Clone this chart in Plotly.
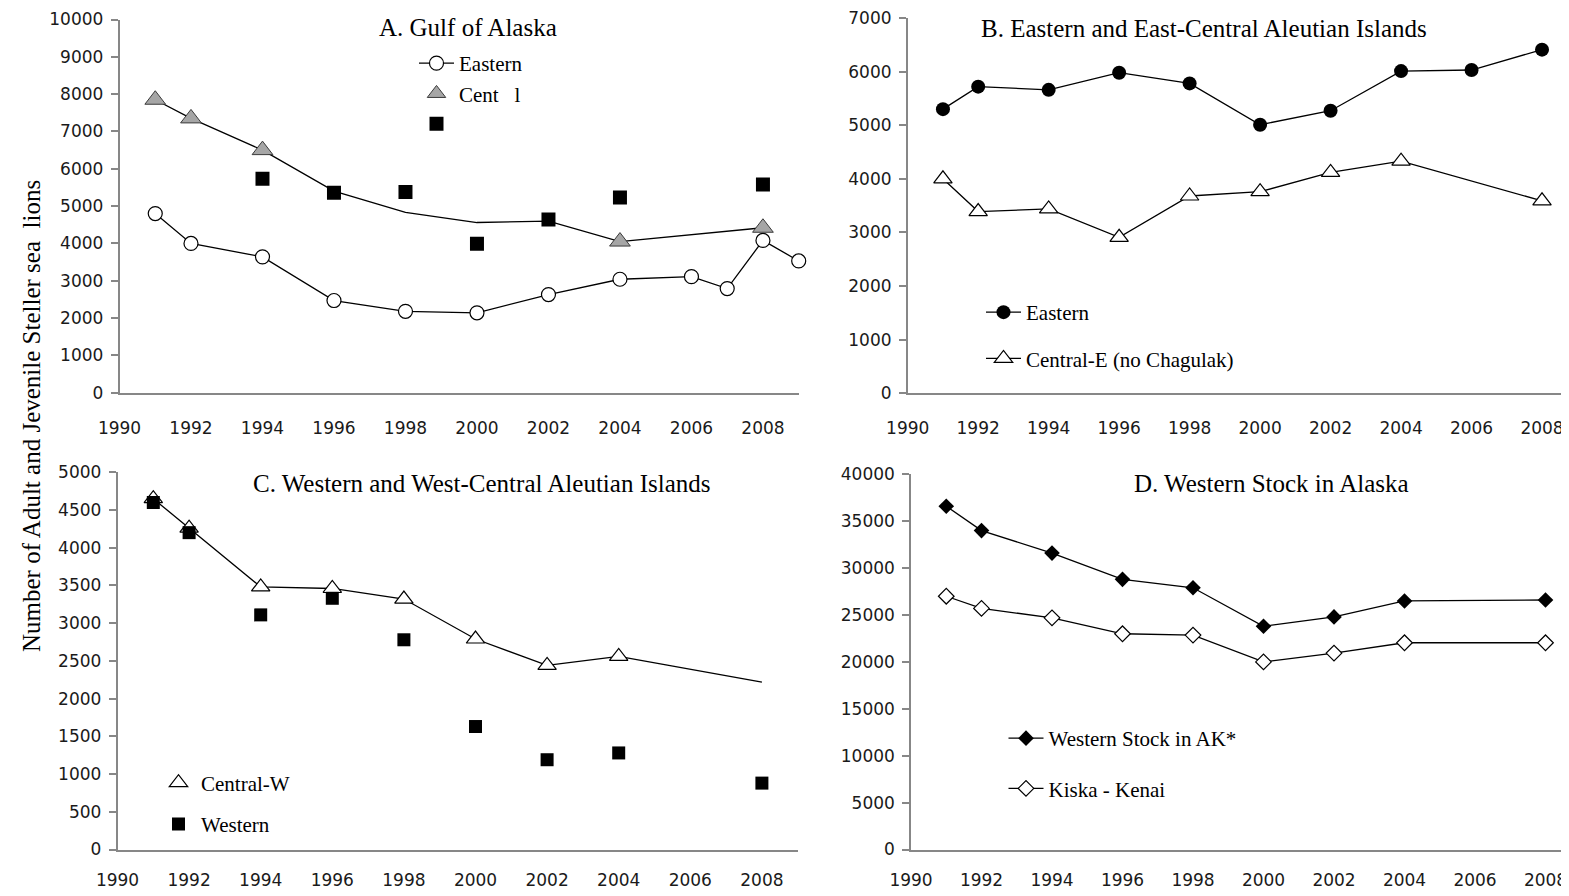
import plotly.graph_objects as go

# the page puts an 8px body margin around the figure, so the figure is
# drawn 8px smaller and every layout position below is given in window pixels
SCREEN_W, SCREEN_H, PAGE_MARGIN = 1569, 896, 8
W, H = SCREEN_W - PAGE_MARGIN, SCREEN_H - PAGE_MARGIN

# ---- values ----
label_years = [1990, 1992, 1994, 1996, 1998, 2000, 2002, 2004, 2006, 2008]
tick_years_ac = [1995, 1999, 2000, 2003, 2007]
tick_years_bd = [1995, 1999, 2003, 2007]

# A. Gulf of Alaska
goa_east_years = [1991, 1992, 1994, 1996, 1998, 2000, 2002, 2004, 2006, 2007, 2008, 2009]
goa_east = [4800, 4000, 3640, 2470, 2180, 2140, 2630, 3040, 3110, 2790, 4080, 3530]
goa_cent_years = [1991, 1992, 1994, 1996, 1998, 2000, 2002, 2004, 2008]
goa_cent = [7850, 7350, 6500, 5400, 4830, 4560, 4600, 4050, 4420]
goa_cent_marked = [1991, 1992, 1994, 2004, 2008]
goa_west_years = [1994, 1996, 1998, 2000, 2002, 2004, 2008]
goa_west = [5730, 5360, 5380, 3990, 4640, 5230, 5580]

# B. Eastern and East-Central Aleutian Islands
eai_east_years = [1991, 1992, 1994, 1996, 1998, 2000, 2002, 2004, 2006, 2008]
eai_east = [5300, 5720, 5660, 5980, 5780, 5010, 5270, 6010, 6030, 6410]
eai_cent_years = [1991, 1992, 1994, 1996, 1998, 2000, 2002, 2004, 2008]
eai_cent = [4000, 3390, 3440, 2910, 3680, 3760, 4120, 4330, 3590]

# C. Western and West-Central Aleutian Islands
wai_years = [1991, 1992, 1994, 1996, 1998, 2000, 2002, 2004, 2008]
wai_cent = [4650, 4260, 3480, 3460, 3320, 2790, 2440, 2560, 2220]
wai_cent_marked = [1991, 1992, 1994, 1996, 1998, 2000, 2002, 2004]
wai_west = [4600, 4200, 3110, 3330, 2780, 1630, 1190, 1280, 880]

# D. Western Stock in Alaska
ak_years = [1991, 1992, 1994, 1996, 1998, 2000, 2002, 2004, 2008]
ak_west = [36600, 34000, 31600, 28800, 27900, 23800, 24800, 26500, 26600]
ak_kiska = [27000, 25700, 24700, 23000, 22860, 20000, 20940, 22040, 22040]

GRAY = "#878787"
SERIF = "Liberation Serif, Times New Roman, serif"
SANS = "DejaVu Sans, sans-serif"
LINE = dict(color="black", width=1.3)


def px_x(p):
    return (p - PAGE_MARGIN) / W


def px_y(p):
    return 1 - (p - PAGE_MARGIN) / H


def pick(years, vals, keep):
    return [vals[years.index(yr)] for yr in keep]


fig = go.Figure()

# ---- A ----
fig.add_trace(go.Scatter(
    x=goa_east_years, y=goa_east, mode="lines+markers", name="Eastern",
    line=LINE, marker=dict(symbol="circle", size=14, color="white",
                           line=dict(color="black", width=1.2)),
    xaxis="x", yaxis="y", legend="legend", legendgroup="a1", cliponaxis=False))
fig.add_trace(go.Scatter(
    x=goa_cent_years, y=goa_cent, mode="lines", line=LINE, showlegend=False,
    xaxis="x", yaxis="y"))
fig.add_trace(go.Scatter(
    x=goa_cent_marked, y=pick(goa_cent_years, goa_cent, goa_cent_marked),
    mode="markers", name="Cent\u00a0\u00a0\u00a0l",
    marker=dict(symbol="triangle-up", size=18, color="#a6a6a6",
                line=dict(color="#3a3a3a", width=1)),
    xaxis="x", yaxis="y", legend="legend", legendgroup="a2", cliponaxis=False))
fig.add_trace(go.Scatter(
    x=goa_west_years, y=goa_west, mode="markers", name="\u00a0",
    marker=dict(symbol="square", size=14, color="black"),
    xaxis="x", yaxis="y", legend="legend", legendgroup="a3"))

# ---- B ----
fig.add_trace(go.Scatter(
    x=eai_east_years, y=eai_east, mode="lines+markers", name="Eastern",
    line=LINE, marker=dict(symbol="circle", size=14, color="black"),
    xaxis="x2", yaxis="y2", legend="legend2", legendgroup="b1", cliponaxis=False))
fig.add_trace(go.Scatter(
    x=eai_cent_years, y=eai_cent, mode="lines+markers", name="Central-E (no Chagulak)",
    line=LINE, marker=dict(symbol="triangle-up", size=16, color="white",
                           line=dict(color="black", width=1.2)),
    xaxis="x2", yaxis="y2", legend="legend2", legendgroup="b2", cliponaxis=False))

# ---- C ----
fig.add_trace(go.Scatter(
    x=wai_years, y=wai_cent, mode="lines", line=LINE, showlegend=False,
    xaxis="x3", yaxis="y3"))
fig.add_trace(go.Scatter(
    x=wai_cent_marked, y=pick(wai_years, wai_cent, wai_cent_marked),
    mode="markers", name="Central-W",
    marker=dict(symbol="triangle-up", size=16, color="white",
                line=dict(color="black", width=1.2)),
    xaxis="x3", yaxis="y3", legend="legend3", legendgroup="c1", cliponaxis=False))
fig.add_trace(go.Scatter(
    x=wai_years, y=wai_west, mode="markers", name="Western",
    marker=dict(symbol="square", size=13, color="black"),
    xaxis="x3", yaxis="y3", legend="legend3", legendgroup="c2", cliponaxis=False))

# ---- D ----
fig.add_trace(go.Scatter(
    x=ak_years, y=ak_west, mode="lines+markers", name="Western Stock in AK*",
    line=LINE, marker=dict(symbol="diamond", size=12, color="black"),
    xaxis="x4", yaxis="y4", legend="legend4", legendgroup="d1", cliponaxis=False))
fig.add_trace(go.Scatter(
    x=ak_years, y=ak_kiska, mode="lines+markers", name="Kiska - Kenai",
    line=LINE, marker=dict(symbol="diamond", size=12, color="white",
                           line=dict(color="black", width=1.2)),
    xaxis="x4", yaxis="y4", legend="legend4", legendgroup="d2", cliponaxis=False))

# ---- axes ----
tick_font = dict(family=SANS, size=17, color="#1a1a1a")


def xaxis(dom, rng, standoff):
    return dict(domain=dom, range=rng, tickmode="array", tickvals=label_years,
                ticktext=[str(y) for y in label_years], ticks="", showline=True,
                linecolor=GRAY, linewidth=1.5, showgrid=False, zeroline=False,
                tickfont=tick_font, ticklabelstandoff=standoff, automargin=False,
                ticklabeloverflow="allow")


def yaxis(dom, top, step):
    return dict(domain=dom, range=[0, top], tickmode="linear", tick0=0, dtick=step,
                tickformat="d", ticks="outside", ticklen=7, tickcolor=GRAY,
                tickwidth=1.5, showline=True, linecolor=GRAY, linewidth=1.5,
                showgrid=False, zeroline=False, tickfont=tick_font,
                ticklabelstandoff=4, automargin=False, ticklabeloverflow="allow")


def tickaxis(over, anchor, rng, vals):
    # separate overlaid axis that carries only the small tick marks
    return dict(overlaying=over, anchor=anchor, range=rng, tickmode="array",
                tickvals=vals, ticks="outside", ticklen=6, tickcolor=GRAY,
                tickwidth=1.5, showticklabels=False, showline=False,
                showgrid=False, zeroline=False)


rng_a = [1990, 2009]
rng_b = [1990, 1990 + (SCREEN_W - 907.7) / 35.24]
rng_c = [1990, 2009]
rng_d = [1990, 1990 + (SCREEN_W - 911.0) / 35.25]

dom_xa = [px_x(119.5), px_x(798.7)]
dom_xb = [px_x(907.7), 1.0]
dom_xc = [px_x(117.5), px_x(797.7)]
dom_xd = [px_x(911.0), 1.0]

fig.update_layout(
    xaxis=dict(xaxis(dom_xa, rng_a, 19), anchor="y"),
    yaxis=dict(yaxis([px_y(392.7), px_y(19.5)], 10000, 1000), anchor="x"),
    xaxis2=dict(xaxis(dom_xb, rng_b, 19), anchor="y2"),
    yaxis2=dict(yaxis([px_y(393.3), px_y(18.0)], 7000, 1000), anchor="x2"),
    xaxis3=dict(xaxis(dom_xc, rng_c, 14), anchor="y3"),
    yaxis3=dict(yaxis([px_y(849.5), px_y(472.3)], 5000, 500), anchor="x3"),
    xaxis4=dict(xaxis(dom_xd, rng_d, 14), anchor="y4"),
    yaxis4=dict(yaxis([px_y(849.5), px_y(474.3)], 40000, 5000), anchor="x4"),
    xaxis5=tickaxis("x", "y", rng_a, tick_years_ac),
    xaxis6=tickaxis("x2", "y2", rng_b, tick_years_bd),
    xaxis7=tickaxis("x3", "y3", rng_c, tick_years_ac),
    xaxis8=tickaxis("x4", "y4", rng_d, tick_years_bd),
)

# ---- legends ----
leg_font = dict(family=SERIF, size=21, color="black")


def legend(xp, yp, gap):
    return dict(x=px_x(xp), y=px_y(yp), xanchor="left", yanchor="top",
                font=leg_font, bgcolor="rgba(0,0,0,0)", tracegroupgap=gap,
                orientation="v", itemwidth=35)


fig.update_layout(
    legend=legend(414, 43, 0),
    legend2=legend(981, 292, 16),
    legend3=legend(156, 762.5, 11),
    legend4=legend(1003.5, 718, 20),
)

# ---- panel titles and shared y title ----
titles = [
    ("A. Gulf of Alaska", 468, 28),
    ("B. Eastern and East-Central Aleutian Islands", 1204, 28.3),
    ("C. Western and West-Central Aleutian Islands", 481, 483),
    ("D. Western Stock in Alaska", 1271.6, 483.3),
]
for text, cx, cy in titles:
    fig.add_annotation(text=text, x=px_x(cx), y=px_y(cy), xref="paper", yref="paper",
                       xanchor="center", yanchor="middle", showarrow=False,
                       font=dict(family=SERIF, size=25, color="black"))

fig.add_annotation(
    text="Number of Adult and Jevenile Steller sea\u00a0\u00a0lions",
    x=px_x(31), y=px_y(416), xref="paper", yref="paper", textangle=-90,
    xanchor="center", yanchor="middle", showarrow=False,
    font=dict(family=SERIF, size=25, color="black"))

fig.update_layout(
    width=W, height=H, margin=dict(l=0, r=0, t=0, b=0, autoexpand=False),
    paper_bgcolor="white", plot_bgcolor="white", showlegend=True,
)

fig.write_html("out.html")
